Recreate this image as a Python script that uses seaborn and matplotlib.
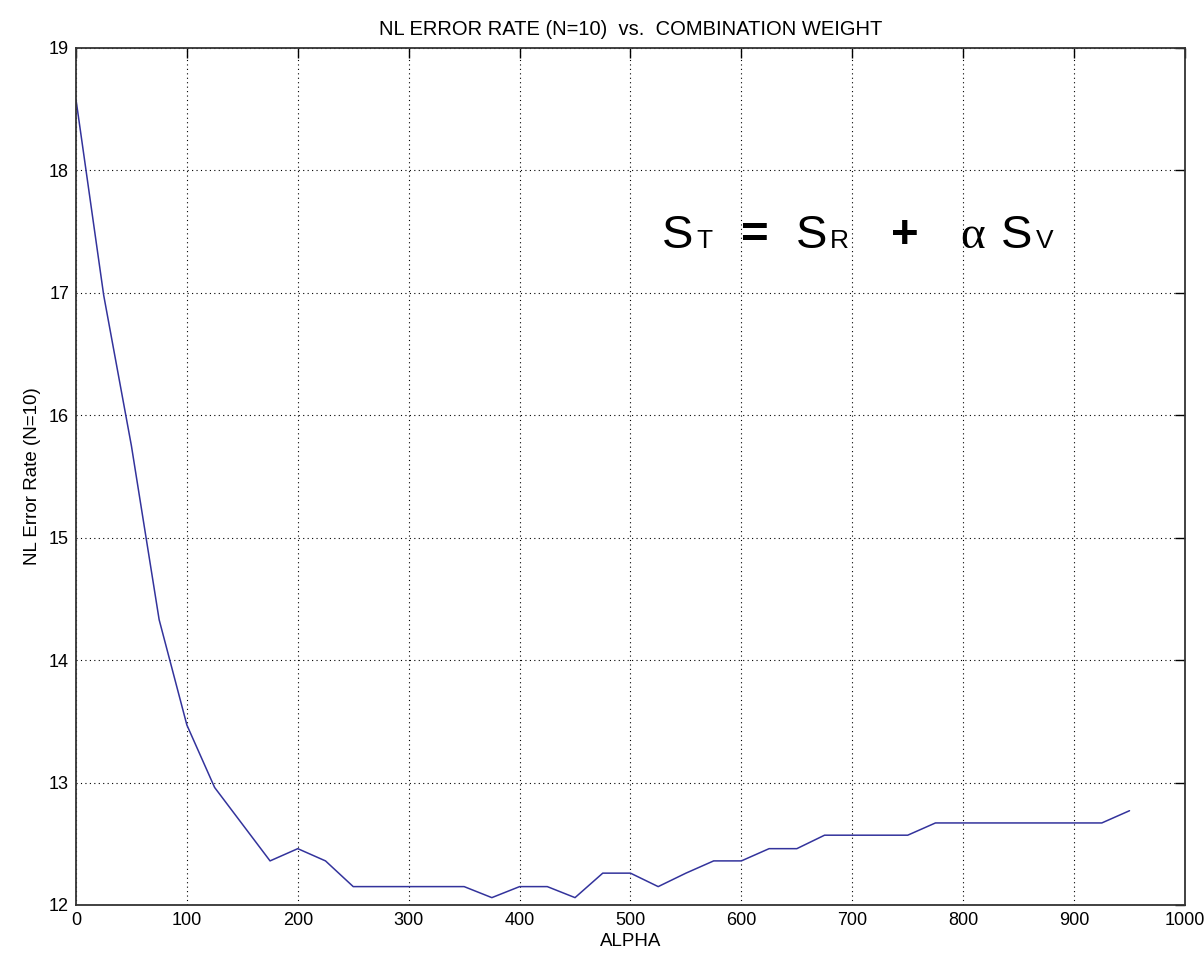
import matplotlib
matplotlib.use("Agg")
import matplotlib.pyplot as plt
import seaborn as sns
import numpy as np
import pandas as pd

alpha = [0, 25, 50, 75, 100, 125, 150, 175, 200, 225, 250, 275, 300, 325, 350,
         375, 400, 425, 450, 475, 500, 525, 550, 575, 600, 625, 650, 675, 700,
         725, 750, 775, 800, 825, 850, 875, 900, 925, 950]
error_rate = [18.58, 16.98, 15.75, 14.33, 13.47, 12.96, 12.66, 12.36, 12.46, 12.36,
              12.15, 12.15, 12.15, 12.15, 12.15, 12.06, 12.15, 12.15, 12.06, 12.26,
              12.26, 12.15, 12.26, 12.36, 12.36, 12.46, 12.46, 12.57, 12.57, 12.57,
              12.57, 12.67, 12.67, 12.67, 12.67, 12.67, 12.67, 12.67, 12.77]
x_ticks = [0, 100, 200, 300, 400, 500, 600, 700, 800, 900, 1000]
y_ticks = [12, 13, 14, 15, 16, 17, 18, 19]

sns.set_theme(style="white")
plt.rcParams['font.family'] = ['Liberation Sans', 'DejaVu Sans']
plt.rcParams['text.color'] = 'black'
plt.rcParams['axes.labelcolor'] = 'black'
plt.rcParams['xtick.color'] = 'black'
plt.rcParams['ytick.color'] = 'black'

df = pd.DataFrame({"ALPHA": alpha, "rate": error_rate})

fig = plt.figure(figsize=(12.04, 9.65), dpi=100)
ax = fig.add_axes([0.0631, 0.0622, 0.9211, 0.8881])
sns.lineplot(data=df, x="ALPHA", y="rate", ax=ax, color="#33339c", linewidth=1.1)

ax.set_xlim(0, 1000)
ax.set_ylim(12, 19)
ax.set_xticks(x_ticks)
ax.set_yticks(y_ticks)
ax.tick_params(direction="in", length=7, width=1, top=True, right=True,
               labelsize=13, colors="black", pad=5)
ax.grid(True, linestyle=(0, (1, 3)), color="black", linewidth=0.8)
for s in ax.spines.values():
    s.set_color("#333333")
    s.set_linewidth(1.3)

ax.set_xlabel("ALPHA", fontsize=13.5, labelpad=3)
ax.set_ylabel("NL Error Rate (N=10)", fontsize=13.5, labelpad=6)
ax.set_title("NL ERROR RATE (N=10)  vs.  COMBINATION WEIGHT", fontsize=14.5, pad=9)

big = 34
small = 19
yb = 17.37
ax.text(528, yb, "S", fontsize=big, va="baseline", ha="left")
ax.text(559, yb, "T", fontsize=small, va="baseline", ha="left")
ax.text(600, yb, "=", fontsize=big, va="baseline", ha="left", fontweight="bold")
ax.text(649, yb, "S", fontsize=big, va="baseline", ha="left")
ax.text(680, yb, "R", fontsize=small, va="baseline", ha="left")
ax.text(735, yb, "+", fontsize=big, va="baseline", ha="left", fontweight="bold")
ax.text(797, yb, "α", fontsize=big, va="baseline", ha="left", family="Liberation Serif")
ax.text(834, yb, "S", fontsize=big, va="baseline", ha="left")
ax.text(866, yb, "V", fontsize=small, va="baseline", ha="left")

fig.savefig("out.png", dpi=100)
